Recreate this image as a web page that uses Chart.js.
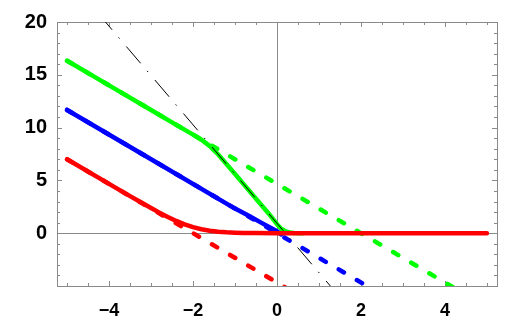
<!DOCTYPE html>
<html>
<head>
<meta charset="utf-8">
<script src="https://cdn.jsdelivr.net/npm/chart.js@4.4.1/dist/chart.umd.min.js"></script>
<style>
  html, body { margin: 0; padding: 0; background: #ffffff; }
  #wrap { width: 518px; height: 320px; }
</style>
</head>
<body>
<div id="wrap"><canvas id="c" width="518" height="320"></canvas></div>
<script>
// ---- axis ticks ----
const xTicks = [-4, -2, 0, 2, 4];
const yTicks = [0, 5, 10, 15, 20];

// ---- solid curves ----
const redX = [-5, -4, -3.5, -3.2, -3.0, -2.8, -2.6, -2.4, -2.2, -2.0, -1.8, -1.6, -1.4, -1.2, -1.0, -0.8, -0.5, 0, 5];
const redY = [7.0, 4.67, 3.51, 2.83, 2.38, 1.95, 1.54, 1.16, 0.83, 0.57, 0.37, 0.23, 0.14, 0.08, 0.05, 0.03, 0.01, 0, 0];

const blueX = [-5, -3, -1, -0.65, -0.4, -0.2, 0, 0.1];
const blueY = [11.67, 7.0, 2.33, 1.6, 1.05, 0.62, 0.18, -0.12];

const greenX = [-5, -4, -3, -2.5, -2, -1.8, -1.7, -1.6, -1.5, -1.4, -1, -0.5, -0.2, 0, 0.1, 0.2, 0.3, 0.4, 0.6];
const greenY = [16.33, 14.0, 11.67, 10.5, 9.33, 8.85, 8.55, 8.25, 7.85, 7.45, 5.6, 3.27, 1.87, 0.85, 0.42, 0.18, 0.07, 0.02, 0];

// ---- dashed straight continuations ----
const redDashX = [-5, 0.25];
const redDashY = [7.0, -5.25];
const blueDashX = [-5, 2.25];
const blueDashY = [11.67, -5.25];
const greenDashX = [-5, 4.25];
const greenDashY = [16.33, -5.25];

// ---- black dash-dot line ----
const blackX = [-4.09, 1.5];
const blackY = [20.02, -6.07];

function pts(xs, ys) { return xs.map((x, i) => ({ x: x, y: ys[i] })); }

const GRAY = '#8a8a8a';

const framePlugin = {
  id: 'frame',
  beforeDatasetsDraw(chart) {
    const ctx = chart.ctx;
    const a = chart.chartArea;
    const xs = chart.scales.x, ys = chart.scales.y;
    ctx.save();
    ctx.strokeStyle = GRAY;
    ctx.lineWidth = 1;
    // zero axes
    const x0 = Math.round(xs.getPixelForValue(0)) + 0.5;
    const y0 = Math.round(ys.getPixelForValue(0)) + 0.5;
    ctx.beginPath();
    ctx.moveTo(x0, a.top); ctx.lineTo(x0, a.bottom);
    ctx.moveTo(a.left, y0); ctx.lineTo(a.right, y0);
    ctx.stroke();
    // frame
    ctx.strokeRect(Math.round(a.left) + 0.5, Math.round(a.top) + 0.5,
                   Math.round(a.right - a.left), Math.round(a.bottom - a.top));
    // ticks (inside) on all four sides
    ctx.beginPath();
    for (let v = -5; v <= 5.001; v += 0.5) {
      const px = Math.round(xs.getPixelForValue(v)) + 0.5;
      if (px < a.left || px > a.right) continue;
      const major = xTicks.some(t => Math.abs(t - v) < 1e-6);
      const len = major ? 5 : 3;
      ctx.moveTo(px, a.bottom); ctx.lineTo(px, a.bottom - len);
      ctx.moveTo(px, a.top); ctx.lineTo(px, a.top + len);
    }
    for (let v = -5; v <= 20.001; v += 1) {
      const py = Math.round(ys.getPixelForValue(v)) + 0.5;
      if (py < a.top - 0.6 || py > a.bottom + 0.6) continue;
      const major = yTicks.some(t => Math.abs(t - v) < 1e-6);
      const len = major ? 5 : 3;
      ctx.moveTo(a.left, py); ctx.lineTo(a.left + len, py);
      ctx.moveTo(a.right, py); ctx.lineTo(a.right - len, py);
    }
    ctx.stroke();
    ctx.restore();
  }
};

const solid = (data, color, order) => ({
  data: data, borderColor: color, borderWidth: 4.5, pointRadius: 0,
  showLine: true, tension: 0, borderCapStyle: 'round', borderJoinStyle: 'round',
  fill: false, clip: 0, order: order
});
const dashed = (data, color, order) => ({
  data: data, borderColor: color, borderWidth: 4.5, pointRadius: 0,
  showLine: true, tension: 0, borderCapStyle: 'round', borderDash: [6, 15],
  fill: false, clip: 0, order: order
});

const minus = v => (v < 0 ? '\u2212' + Math.abs(v) : String(v));

new Chart(document.getElementById('c'), {
  type: 'scatter',
  data: {
    datasets: [
      { data: pts(blackX, blackY), borderColor: '#000000', borderWidth: 1, pointRadius: 0,
        showLine: true, tension: 0, borderDash: [22, 10, 1.5, 10.5], borderDashOffset: 11.5,
        fill: false, clip: 0, order: 0 },
      solid(pts(redX, redY), '#ff0000', 1),
      solid(pts(blueX, blueY), '#0000ff', 2),
      solid(pts(greenX, greenY), '#00ff00', 3),
      dashed(pts(redDashX, redDashY), '#ff0000', 4),
      dashed(pts(blueDashX, blueDashY), '#0000ff', 5),
      dashed(pts(greenDashX, greenDashY), '#00ff00', 6)
    ]
  },
  options: {
    responsive: false,
    animation: false,
    devicePixelRatio: 1,
    layout: { padding: { top: 14, right: 21, left: 0, bottom: 0 } },
    plugins: { legend: { display: false }, tooltip: { enabled: false } },
    scales: {
      x: {
        type: 'linear', min: -5.24, max: 5.24,
        grid: { display: false, drawTicks: false },
        border: { display: false },
        afterBuildTicks: s => { s.ticks = xTicks.map(v => ({ value: v })); },
        afterFit: s => { s.height = 34; },
        ticks: { padding: 14, color: '#000000', maxRotation: 0,
                 font: { family: 'Liberation Sans', weight: 'bold', size: 18 },
                 callback: v => minus(v) }
      },
      y: {
        type: 'linear', min: -5, max: 20,
        grid: { display: false, drawTicks: false },
        border: { display: false },
        afterBuildTicks: s => { s.ticks = yTicks.map(v => ({ value: v })); },
        afterFit: s => { s.width = 57; },
        ticks: { padding: 10, color: '#000000',
                 font: { family: 'Liberation Sans', weight: 'bold', size: 20 },
                 callback: v => minus(v) }
      }
    }
  },
  plugins: [framePlugin]
});
</script>
</body>
</html>
